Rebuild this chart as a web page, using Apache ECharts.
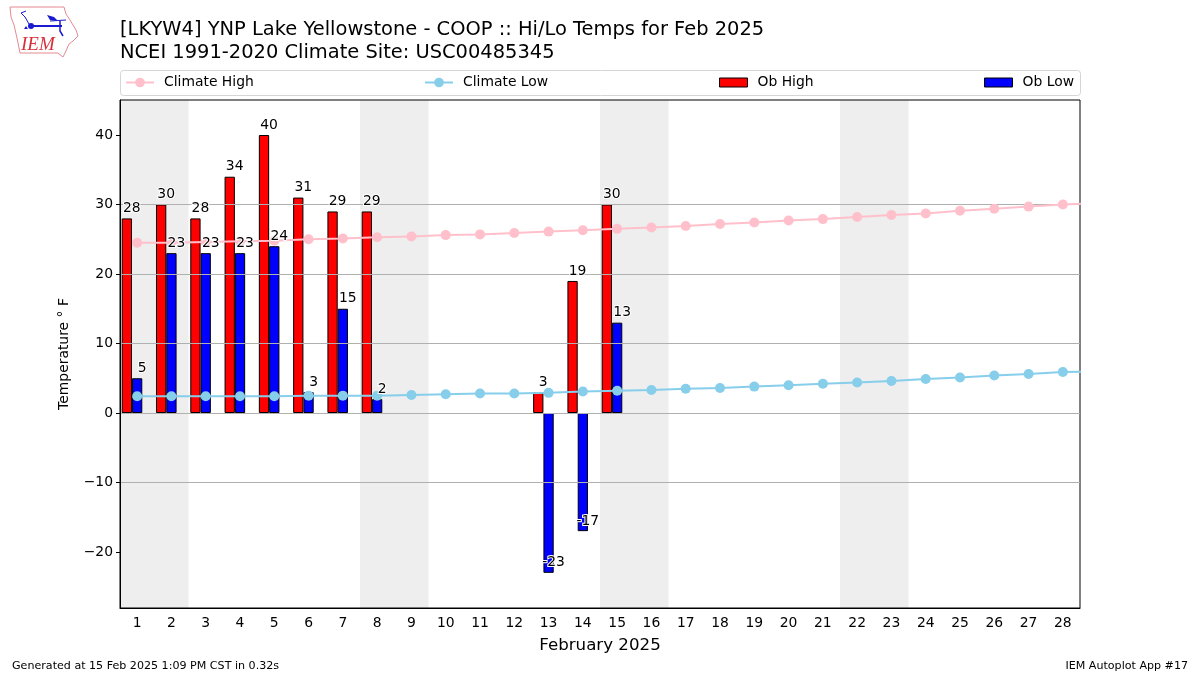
<!DOCTYPE html>
<html><head><meta charset="utf-8">
<style>html,body{margin:0;padding:0;background:#fff}#c{width:1200px;height:675px}</style>
<script src="https://cdn.jsdelivr.net/npm/echarts@6/dist/echarts.min.js"></script>
</head><body><div id="c"></div>
<script>
const days = ['1','2','3','4','5','6','7','8','9','10','11','12','13','14','15','16','17','18','19','20','21','22','23','24','25','26','27','28'];
const obHigh = [28,30,28,34,40,31,29,29,null,null,null,null,3,19,30,null,null,null,null,null,null,null,null,null,null,null,null,null];
const obLow = [5,23,23,23,24,3,15,2,null,null,null,null,-23,-17,13,null,null,null,null,null,null,null,null,null,null,null,null,null];
const climateHigh = [24.5,24.5,24.6,24.7,24.8,25.0,25.1,25.3,25.4,25.6,25.7,25.9,26.1,26.3,26.5,26.7,26.9,27.2,27.4,27.7,27.9,28.2,28.5,28.7,29.1,29.4,29.7,30.0,30.2];
const climateLow = [2.4,2.4,2.4,2.4,2.4,2.5,2.5,2.5,2.6,2.7,2.8,2.8,2.9,3.1,3.2,3.3,3.5,3.6,3.8,4.0,4.2,4.4,4.6,4.9,5.1,5.4,5.6,5.9,6.0];
const weekends = [[1,2],[8,9],[15,16],[22,23]];
const yTicks = [-20,-10,0,10,20,30,40];
const FONT = '"DejaVu Sans"';

const withDay = arr => arr.map((v, i) => [i + 1, v]);
const lineSeries = (name, values, color) => ({
  name, type: 'line', xAxisIndex: 1, z: 4, data: withDay(values),
  symbol: 'circle', symbolSize: 10, showSymbol: true, clip: true,
  lineStyle: { color, width: 2 }, itemStyle: { color }, silent: true
});
const barSeries = (name, values, color) => ({
  name, type: 'bar', z: 2, data: values, barWidth: '30%', barGap: 0,
  itemStyle: { color, borderColor: '#000', borderWidth: 1, borderJoin: 'miter' }, silent: true
});
const labelSeries = (name, values, dx) => ({
  name, type: 'scatter', z: 6, symbolSize: 0, silent: true, itemStyle: { opacity: 1 },
  data: values.map((v, i) => v === null ? null : [days[i], v]).filter(Boolean),
  label: { show: true, position: 'top', distance: 3, offset: [dx, 0], color: '#000', opacity: 1,
    fontFamily: FONT, fontSize: 13.9, textBorderColor: '#fff', textBorderWidth: 2,
    formatter: p => String(p.value[1]) }
});
const legendAt = (name, left, isBar) => {
  const l = {
    data: isBar ? [{ name, icon: 'rect' }] : [name],
    left, top: 75.5, itemWidth: 28, itemHeight: isBar ? 9 : 12, selectedMode: false, padding: 0,
    textStyle: { fontFamily: FONT, fontSize: 13.9, color: '#000', padding: [0, 0, 0, 5] }
  };
  if (isBar) l.itemStyle = { borderWidth: 1, borderColor: '#000', borderJoin: 'miter' };
  return l;
};

const chart = echarts.init(document.getElementById('c'), null, { renderer: 'canvas' });
chart.setOption({
  animation: false,
  backgroundColor: '#fff',
  title: {
    left: 120, top: 19, padding: 0,
    text: '[LKYW4] YNP Lake Yellowstone - COOP :: Hi/Lo Temps for Feb 2025\nNCEI 1991-2020 Climate Site: USC00485345',
    textStyle: { fontFamily: FONT, fontWeight: 'normal', fontSize: 19.44, lineHeight: 22.5, color: '#000' }
  },
  legend: [
    legendAt('Climate High', 125, false), legendAt('Climate Low', 424, false),
    legendAt('Ob High', 719, true), legendAt('Ob Low', 984, true)
  ],
  grid: { left: 120, right: 120, top: 100, bottom: 67, show: true, borderColor: '#000', borderWidth: 1, backgroundColor: 'transparent' },
  xAxis: [
    { type: 'category', data: days, boundaryGap: true,
      name: 'February 2025', nameLocation: 'middle', nameGap: 29,
      nameTextStyle: { fontFamily: FONT, fontSize: 16.67, color: '#000' },
      axisLine: { onZero: false, lineStyle: { color: '#000' } },
      axisTick: { alignWithLabel: true, length: 4, lineStyle: { color: '#000' } },
      axisLabel: { interval: 0, margin: 8, fontFamily: FONT, fontSize: 13.9, color: '#000' },
      splitLine: { show: false } },
    { type: 'value', min: 0.5, max: 28.5, show: false, position: 'top', splitLine: { show: false } }
  ],
  yAxis: {
    type: 'value', min: -28.06, max: 45.04, z: 3,
    name: 'Temperature \u00b0 F', nameLocation: 'middle', nameRotate: 90, nameGap: 49,
    nameTextStyle: { fontFamily: FONT, fontSize: 13.9, color: '#000' },
    axisLine: { show: true, onZero: false, lineStyle: { color: '#000' } },
    axisTick: { show: true, length: 4, lineStyle: { color: '#000' }, customValues: yTicks },
    axisLabel: { margin: 7, padding: [2, 0, 0, 0], fontFamily: FONT, fontSize: 13.9, color: '#000', customValues: yTicks,
      formatter: v => String(v).replace('-', '\u2212'), showMinLabel: true, showMaxLabel: true },
    splitLine: { show: true, showMinLine: false, showMaxLine: false, lineStyle: { color: '#b0b0b0', width: 1 } }
  },
  series: [
    { name: 'weekend', type: 'custom', xAxisIndex: 1, z: -1, silent: true, clip: true,
      data: weekends,
      renderItem: (params, api) => {
        const x0 = api.coord([api.value(0) - 0.5, 0])[0];
        const x1 = api.coord([api.value(1) + 0.5, 0])[0];
        const cs = params.coordSys;
        return { type: 'rect', shape: { x: x0, y: cs.y, width: x1 - x0, height: cs.height },
          style: { fill: '#eeeeee' } };
      },
      encode: { x: [0, 1] } },
    barSeries('Ob High', obHigh, '#ff0000'),
    barSeries('Ob Low', obLow, '#0000ff'),
    { name: 'spacer', type: 'bar', data: [], barWidth: '30%', barGap: 0, silent: true },
    lineSeries('Climate High', climateHigh, '#ffc0cb'),
    lineSeries('Climate Low', climateLow, '#87ceeb'),
    labelSeries('Ob High values', obHigh, -5.3),
    labelSeries('Ob Low values', obLow, 5)
  ],
  graphic: [
    { type: 'rect', z: 1, shape: { x: 120.5, y: 70.5, width: 960, height: 25, r: 3 }, style: { fill: '#fff', stroke: '#d5d5d5', lineWidth: 1 } },
    { type: 'text', left: 12, top: 661, style: { text: 'Generated at 15 Feb 2025 1:09 PM CST in 0.32s', fontFamily: FONT, fontSize: 11.1, fill: '#000' } },
    { type: 'text', right: 12, top: 661, style: { text: 'IEM Autoplot App #17', fontFamily: FONT, fontSize: 11.1, fill: '#000', textAlign: 'right' } },
    { type: 'polyline', z: 1, shape: { points: [[10,7],[64,7],[66,14],[70,20],[76,30],[78,36],[73,41],[69,44],[66,51],[63,57],[58,53],[20,53],[17,38],[14,25],[11,17],[10,7]] }, style: { fill: 'none', stroke: '#e58a92', lineWidth: 1 } },
    { type: 'polyline', z: 1, shape: { points: [[31,26],[62,26]] }, style: { stroke: '#1a1ad0', lineWidth: 2, fill: 'none' } },
    { type: 'circle', z: 1, shape: { cx: 31, cy: 26, r: 3 }, style: { fill: '#1a1ad0' } },
    { type: 'polyline', z: 1, shape: { points: [[29,24],[25,17],[21,13]] }, style: { stroke: '#1a1ad0', lineWidth: 1, fill: 'none' } },
    { type: 'polyline', z: 1, shape: { points: [[21,13],[26,11]] }, style: { stroke: '#1a1ad0', lineWidth: 1, fill: 'none' } },
    { type: 'polygon', z: 1, shape: { points: [[47,15],[54,17],[58,21],[50,20]] }, style: { fill: '#1a1ad0' } },
    { type: 'polyline', z: 1, shape: { points: [[50,21],[66,20]] }, style: { stroke: '#1a1ad0', lineWidth: 1, fill: 'none' } },
    { type: 'polyline', z: 1, shape: { points: [[60,21],[60,31],[63,36]] }, style: { stroke: '#1a1ad0', lineWidth: 1.5, fill: 'none' } },
    { type: 'polygon', z: 1, shape: { points: [[24,29],[26,26],[28,29]] }, style: { fill: '#1a1ad0' } },
    { type: 'text', z: 1, left: 21, top: 35, style: { text: 'IEM', fontFamily: '"Liberation Serif"', fontStyle: 'italic', fontSize: 19, fill: '#d8303a' } }
  ]
});
</script></body></html>
